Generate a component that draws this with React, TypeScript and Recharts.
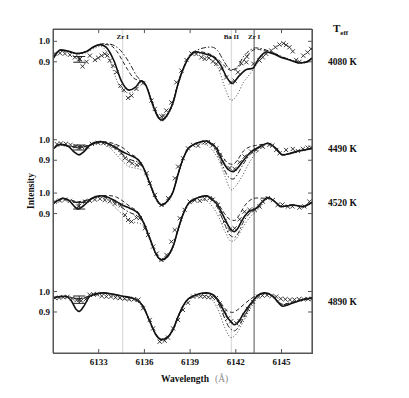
import React from "react";
import { ComposedChart, Line, Scatter, XAxis, YAxis, ReferenceLine, ErrorBar } from "recharts";

type Pt = [number, number];

const FONT = '"Liberation Serif", "Times New Roman", serif';

const wavelengthTicks = [6133, 6136, 6139, 6142, 6145];
const intensityTicks = [0.9, 1.0];
const temperatures = ["4080 K", "4490 K", "4520 K", "4890 K"];
const lineNames = ["Zr I", "Ba II", "Zr I"];
const lineCenters = [6134.57, 6141.71, 6143.2];

const X_DOMAIN: [number, number] = [6130, 6147];
const Y_DOMAIN: [number, number] = [0.7, 2.28];

// ---- 4080 K ----
const obs4080: Pt[] = [
  [6130.13, 0.94], [6130.46, 0.942], [6130.78, 0.94], [6131.11, 0.934], [6131.44, 0.922], [6131.77, 0.914],
  [6131.94, 0.878], [6132.2, 0.9], [6132.42, 0.93], [6132.75, 0.909], [6132.97, 0.919], [6133.19, 0.93],
  [6133.4, 0.939], [6133.56, 0.93], [6133.73, 0.906], [6133.95, 0.881], [6134.17, 0.849], [6134.43, 0.784],
  [6134.65, 0.763], [6134.93, 0.724], [6135.15, 0.735], [6135.48, 0.768], [6135.91, 0.795], [6136.46, 0.711],
  [6136.68, 0.67], [6137.12, 0.634], [6137.25, 0.636], [6137.44, 0.662], [6137.77, 0.702], [6138.1, 0.8],
  [6138.43, 0.857], [6138.76, 0.909], [6139.08, 0.941], [6139.41, 0.938], [6139.74, 0.922], [6139.96, 0.914],
  [6140.24, 0.919], [6140.5, 0.902], [6140.72, 0.89], [6141.05, 0.865], [6141.37, 0.824], [6141.7, 0.8],
  [6141.92, 0.808], [6142.14, 0.849], [6142.36, 0.893], [6142.69, 0.898], [6142.73, 0.925], [6143.16, 0.89],
  [6143.56, 0.906], [6143.77, 0.922], [6143.99, 0.939], [6144.32, 0.955], [6144.6, 0.971], [6144.87, 0.984],
  [6145.13, 0.99], [6145.3, 0.982], [6145.52, 0.971], [6145.74, 0.951], [6145.96, 0.909], [6146.18, 0.9],
  [6146.43, 0.93], [6146.71, 0.946], [6146.94, 0.963],
];
const fit4080: Pt[] = [
  [6130.0, 0.915], [6130.5, 0.958], [6131.0, 0.952], [6131.6, 0.94], [6132.2, 0.95], [6132.7, 0.975],
  [6133.1, 0.984], [6133.5, 0.97], [6134.0, 0.905], [6134.5, 0.805], [6135.0, 0.762], [6135.4, 0.775],
  [6135.8, 0.807], [6136.1, 0.785], [6136.5, 0.7], [6136.9, 0.63], [6137.15, 0.615], [6137.5, 0.64],
  [6137.9, 0.705], [6138.2, 0.79], [6138.6, 0.875], [6139.0, 0.93], [6139.4, 0.948], [6140.0, 0.938],
  [6140.5, 0.925], [6141.0, 0.885], [6141.4, 0.825], [6141.75, 0.794], [6142.2, 0.83], [6142.7, 0.863],
  [6143.1, 0.868], [6143.5, 0.915], [6144.0, 0.948], [6144.5, 0.938], [6144.9, 0.924], [6145.5, 0.91],
  [6146.2, 0.895], [6146.6, 0.898], [6147.0, 0.918],
];
const dash4080: Pt[] = [
  [6130.0, 0.915], [6130.5, 0.956], [6131.0, 0.95], [6131.6, 0.94], [6132.2, 0.95], [6132.7, 0.972],
  [6133.2, 0.985], [6133.7, 0.982], [6134.2, 0.95], [6134.6, 0.9], [6134.9, 0.862], [6135.3, 0.82],
  [6135.8, 0.805], [6136.1, 0.785], [6136.5, 0.705], [6136.9, 0.635], [6137.15, 0.62], [6137.5, 0.645],
  [6137.9, 0.71], [6138.2, 0.795], [6138.6, 0.878], [6139.0, 0.932], [6139.4, 0.95], [6140.0, 0.945],
  [6140.5, 0.93], [6141.0, 0.9], [6141.4, 0.87], [6141.75, 0.857], [6142.2, 0.875], [6142.6, 0.915],
  [6143.0, 0.95], [6143.4, 0.962], [6143.8, 0.955], [6144.2, 0.95], [6144.6, 0.938], [6145.0, 0.924],
  [6145.5, 0.91], [6146.2, 0.896], [6146.6, 0.899], [6147.0, 0.918],
];
const dashDot4080: Pt[] = [
  [6130.0, 0.915], [6130.5, 0.955], [6131.0, 0.95], [6131.6, 0.942], [6132.2, 0.952], [6132.7, 0.975],
  [6133.3, 0.988], [6133.8, 0.985], [6134.3, 0.965], [6134.8, 0.92], [6135.2, 0.87], [6135.5, 0.83],
  [6135.8, 0.808], [6136.1, 0.785], [6136.5, 0.705], [6136.9, 0.635], [6137.15, 0.62], [6137.5, 0.645],
  [6137.9, 0.71], [6138.2, 0.795], [6138.6, 0.878], [6139.0, 0.935], [6139.4, 0.955], [6139.9, 0.968],
  [6140.4, 0.972], [6140.8, 0.955], [6141.2, 0.905], [6141.5, 0.872], [6141.75, 0.862], [6142.1, 0.875],
  [6142.5, 0.925], [6142.9, 0.955], [6143.3, 0.968], [6143.8, 0.962], [6144.2, 0.952], [6144.6, 0.94],
  [6145.0, 0.926], [6145.5, 0.912], [6146.2, 0.897], [6146.6, 0.9], [6147.0, 0.92],
];
const dot4080: Pt[] = [
  [6130.0, 0.912], [6130.5, 0.952], [6131.0, 0.948], [6131.6, 0.938], [6132.2, 0.945], [6132.7, 0.965],
  [6133.1, 0.975], [6133.5, 0.95], [6133.9, 0.87], [6134.3, 0.79], [6134.7, 0.752], [6135.1, 0.748],
  [6135.5, 0.775], [6135.8, 0.8], [6136.1, 0.78], [6136.5, 0.695], [6136.9, 0.625], [6137.15, 0.61],
  [6137.5, 0.635], [6137.9, 0.7], [6138.2, 0.785], [6138.6, 0.87], [6139.0, 0.925], [6139.4, 0.942],
  [6139.9, 0.93], [6140.4, 0.905], [6140.9, 0.86], [6141.3, 0.77], [6141.7, 0.712], [6142.1, 0.74],
  [6142.5, 0.8], [6142.9, 0.838], [6143.3, 0.88], [6143.8, 0.935], [6144.2, 0.945], [6144.6, 0.936],
  [6145.0, 0.922], [6145.5, 0.908], [6146.2, 0.893], [6146.6, 0.896], [6147.0, 0.915],
];
const err4080 = [6131.72, 0.912, 0.014];

// ---- 4490 K ----
const obs4490: Pt[] = [
  [6130.26, 0.978], [6130.52, 0.982], [6130.85, 0.98], [6131.15, 0.975], [6131.5, 0.968], [6131.9, 0.965],
  [6132.25, 0.966], [6132.55, 0.98], [6132.95, 0.985], [6133.3, 0.983], [6133.65, 0.975], [6133.95, 0.968],
  [6134.2, 0.962], [6134.5, 0.935], [6134.72, 0.91], [6134.98, 0.895], [6135.2, 0.885], [6135.5, 0.877],
  [6135.7, 0.88], [6136.14, 0.837], [6136.35, 0.788], [6136.69, 0.731], [6137.12, 0.682], [6137.56, 0.715],
  [6138.0, 0.812], [6138.21, 0.869], [6138.53, 0.91], [6138.86, 0.958], [6139.19, 0.975], [6139.52, 0.971],
  [6139.96, 0.988], [6140.17, 0.988], [6140.5, 0.975], [6140.72, 0.958], [6140.94, 0.926], [6141.15, 0.893],
  [6141.59, 0.862], [6141.92, 0.858], [6142.25, 0.89], [6142.58, 0.918], [6143.01, 0.942], [6143.34, 0.95],
  [6143.77, 0.966], [6144.2, 0.975], [6144.4, 0.972], [6144.65, 0.95], [6144.87, 0.934], [6145.3, 0.95],
  [6145.74, 0.955], [6146.07, 0.945], [6146.4, 0.955], [6146.72, 0.961], [6146.92, 0.962],
];
const fit4490: Pt[] = [
  [6130.0, 0.955], [6130.5, 0.978], [6131.0, 0.968], [6131.4, 0.94], [6131.7, 0.926], [6132.0, 0.94],
  [6132.5, 0.978], [6133.1, 0.991], [6133.6, 0.982], [6134.2, 0.958], [6134.6, 0.94], [6135.0, 0.926],
  [6135.6, 0.901], [6135.9, 0.869], [6136.35, 0.788], [6136.75, 0.715], [6137.12, 0.682], [6137.5, 0.7],
  [6137.9, 0.75], [6138.2, 0.83], [6138.55, 0.91], [6138.85, 0.955], [6139.2, 0.975], [6139.6, 0.988],
  [6140.07, 0.994], [6140.4, 0.98], [6140.72, 0.958], [6141.15, 0.893], [6141.5, 0.855], [6141.81, 0.844],
  [6142.1, 0.86], [6142.36, 0.885], [6142.9, 0.934], [6143.56, 0.966], [6144.1, 0.983], [6144.6, 0.96],
  [6145.08, 0.926], [6145.5, 0.932], [6145.96, 0.942], [6146.5, 0.95], [6147.0, 0.958],
];
const dash4490: Pt[] = [
  [6130.0, 0.955], [6130.5, 0.975], [6131.0, 0.97], [6131.7, 0.965], [6132.5, 0.975], [6133.1, 0.99],
  [6133.6, 0.988], [6134.2, 0.975], [6134.6, 0.96], [6135.0, 0.935], [6135.6, 0.905], [6135.9, 0.872],
  [6136.35, 0.79], [6136.75, 0.718], [6137.12, 0.685], [6137.5, 0.703], [6137.9, 0.753], [6138.2, 0.833],
  [6138.55, 0.912], [6138.85, 0.956], [6139.2, 0.976], [6139.6, 0.989], [6140.07, 0.995], [6140.4, 0.985],
  [6140.72, 0.965], [6141.15, 0.915], [6141.5, 0.885], [6141.81, 0.88], [6142.1, 0.9], [6142.5, 0.945],
  [6142.9, 0.965], [6143.3, 0.972], [6143.8, 0.978], [6144.1, 0.983], [6144.6, 0.96], [6145.08, 0.928],
  [6145.5, 0.933], [6145.96, 0.942], [6146.5, 0.95], [6147.0, 0.958],
];
const dashDot4490: Pt[] = [
  [6130.0, 0.955], [6130.5, 0.976], [6131.0, 0.968], [6131.7, 0.962], [6132.5, 0.975], [6133.1, 0.99],
  [6133.6, 0.98], [6134.2, 0.95], [6134.6, 0.925], [6135.0, 0.905], [6135.6, 0.89], [6135.9, 0.866],
  [6136.35, 0.786], [6136.75, 0.713], [6137.12, 0.68], [6137.5, 0.698], [6137.9, 0.748], [6138.2, 0.828],
  [6138.55, 0.908], [6138.85, 0.953], [6139.2, 0.974], [6139.6, 0.987], [6140.07, 0.992], [6140.4, 0.975],
  [6140.72, 0.945], [6141.15, 0.87], [6141.5, 0.82], [6141.81, 0.808], [6142.1, 0.83], [6142.4, 0.87],
  [6142.9, 0.925], [6143.56, 0.962], [6144.1, 0.982], [6144.6, 0.96], [6145.08, 0.926], [6145.5, 0.932],
  [6145.96, 0.942], [6146.5, 0.95], [6147.0, 0.958],
];
const dot4490: Pt[] = [
  [6130.0, 0.952], [6130.5, 0.972], [6131.0, 0.966], [6131.7, 0.96], [6132.5, 0.972], [6133.1, 0.985],
  [6133.6, 0.97], [6134.0, 0.94], [6134.5, 0.9], [6135.0, 0.868], [6135.5, 0.86], [6135.9, 0.85],
  [6136.35, 0.78], [6136.75, 0.708], [6137.12, 0.676], [6137.5, 0.694], [6137.9, 0.744], [6138.2, 0.824],
  [6138.55, 0.905], [6138.85, 0.95], [6139.2, 0.97], [6139.6, 0.98], [6140.07, 0.975], [6140.5, 0.945],
  [6140.9, 0.9], [6141.3, 0.82], [6141.7, 0.755], [6142.0, 0.775], [6142.4, 0.82], [6142.9, 0.89],
  [6143.5, 0.95], [6144.1, 0.978], [6144.6, 0.958], [6145.08, 0.924], [6145.5, 0.93], [6145.96, 0.94],
  [6146.5, 0.948], [6147.0, 0.955],
];
const err4490 = [6131.72, 0.962, 0.012];

// ---- 4520 K ----
const obs4520: Pt[] = [
  [6130.13, 0.958], [6130.46, 0.963], [6130.79, 0.968], [6131.11, 0.962], [6131.66, 0.934], [6132.1, 0.958],
  [6132.42, 0.962], [6132.75, 0.968], [6133.08, 0.972], [6133.4, 0.966], [6133.73, 0.96], [6134.06, 0.948],
  [6134.45, 0.94], [6134.72, 0.893], [6134.93, 0.869], [6135.15, 0.861], [6135.48, 0.88], [6135.7, 0.878],
  [6136.03, 0.828], [6136.24, 0.796], [6136.57, 0.739], [6136.81, 0.705], [6137.12, 0.674], [6137.45, 0.698],
  [6137.77, 0.763], [6137.99, 0.82], [6138.32, 0.877], [6138.64, 0.918], [6138.97, 0.958], [6139.3, 0.965],
  [6139.63, 0.962], [6139.95, 0.972], [6140.28, 0.975], [6140.48, 0.968], [6140.82, 0.942], [6141.05, 0.901],
  [6141.26, 0.861], [6141.59, 0.82], [6141.92, 0.828], [6142.25, 0.872], [6142.57, 0.909], [6142.9, 0.918],
  [6143.23, 0.918], [6143.56, 0.934], [6143.77, 0.958], [6144.1, 0.975], [6144.43, 0.966], [6144.75, 0.942],
  [6145.06, 0.944], [6145.41, 0.934], [6145.72, 0.935], [6146.18, 0.929], [6146.5, 0.935], [6146.83, 0.958],
];
const fit4520: Pt[] = [
  [6130.0, 0.947], [6130.67, 0.975], [6131.1, 0.96], [6131.4, 0.935], [6131.66, 0.922], [6132.0, 0.938],
  [6132.5, 0.972], [6133.08, 0.987], [6133.6, 0.98], [6134.17, 0.958], [6134.6, 0.94], [6135.04, 0.926],
  [6135.59, 0.901], [6135.91, 0.861], [6136.35, 0.78], [6136.75, 0.705], [6137.12, 0.674], [6137.5, 0.69],
  [6137.88, 0.74], [6138.2, 0.82], [6138.53, 0.895], [6138.85, 0.945], [6139.19, 0.966], [6139.6, 0.98],
  [6140.07, 0.986], [6140.4, 0.972], [6140.72, 0.95], [6141.26, 0.877], [6141.6, 0.83], [6141.92, 0.812],
  [6142.15, 0.83], [6142.36, 0.861], [6142.79, 0.906], [6143.34, 0.926], [6143.7, 0.955], [6144.1, 0.978],
  [6144.5, 0.962], [6144.98, 0.934], [6145.4, 0.938], [6145.74, 0.942], [6146.39, 0.934], [6147.0, 0.955],
];
const dash4520: Pt[] = [
  [6130.0, 0.947], [6130.67, 0.972], [6131.2, 0.965], [6131.66, 0.958], [6132.3, 0.968], [6133.08, 0.985],
  [6133.6, 0.988], [6134.17, 0.98], [6134.6, 0.96], [6135.04, 0.935], [6135.59, 0.905], [6135.91, 0.864],
  [6136.35, 0.782], [6136.75, 0.708], [6137.12, 0.677], [6137.5, 0.693], [6137.88, 0.743], [6138.2, 0.823],
  [6138.53, 0.897], [6138.85, 0.946], [6139.19, 0.967], [6139.6, 0.981], [6140.07, 0.987], [6140.4, 0.978],
  [6140.72, 0.96], [6141.26, 0.9], [6141.6, 0.872], [6141.92, 0.866], [6142.2, 0.89], [6142.6, 0.94],
  [6143.0, 0.968], [6143.4, 0.976], [6143.8, 0.975], [6144.1, 0.978], [6144.5, 0.962], [6144.98, 0.934],
  [6145.4, 0.938], [6145.74, 0.942], [6146.39, 0.934], [6147.0, 0.955],
];
const dashDot4520: Pt[] = [
  [6130.0, 0.947], [6130.67, 0.973], [6131.2, 0.962], [6131.66, 0.955], [6132.3, 0.966], [6133.08, 0.984],
  [6133.6, 0.975], [6134.17, 0.95], [6134.6, 0.925], [6135.04, 0.905], [6135.59, 0.885], [6135.91, 0.858],
  [6136.35, 0.778], [6136.75, 0.703], [6137.12, 0.672], [6137.5, 0.688], [6137.88, 0.738], [6138.2, 0.818],
  [6138.53, 0.893], [6138.85, 0.943], [6139.19, 0.964], [6139.6, 0.978], [6140.07, 0.984], [6140.4, 0.968],
  [6140.72, 0.94], [6141.26, 0.85], [6141.6, 0.795], [6141.92, 0.785], [6142.2, 0.81], [6142.5, 0.86],
  [6142.9, 0.9], [6143.34, 0.922], [6143.7, 0.952], [6144.1, 0.977], [6144.5, 0.962], [6144.98, 0.934],
  [6145.4, 0.938], [6145.74, 0.942], [6146.39, 0.934], [6147.0, 0.955],
];
const dot4520: Pt[] = [
  [6130.0, 0.945], [6130.67, 0.97], [6131.2, 0.96], [6131.66, 0.952], [6132.3, 0.962], [6133.08, 0.98],
  [6133.6, 0.965], [6134.0, 0.935], [6134.5, 0.9], [6135.0, 0.865], [6135.5, 0.855], [6135.91, 0.845],
  [6136.35, 0.772], [6136.75, 0.7], [6137.12, 0.668], [6137.5, 0.684], [6137.88, 0.734], [6138.2, 0.814],
  [6138.53, 0.889], [6138.85, 0.938], [6139.19, 0.958], [6139.6, 0.968], [6140.07, 0.962], [6140.5, 0.93],
  [6140.9, 0.88], [6141.3, 0.81], [6141.7, 0.765], [6142.0, 0.775], [6142.4, 0.825], [6142.9, 0.88],
  [6143.4, 0.915], [6143.8, 0.95], [6144.1, 0.974], [6144.5, 0.96], [6144.98, 0.932], [6145.4, 0.936],
  [6145.74, 0.94], [6146.39, 0.932], [6147.0, 0.953],
];
const err4520 = [6131.72, 0.938, 0.016];

// ---- 4890 K ----
const obs4890: Pt[] = [
  [6130.13, 0.968], [6130.4, 0.97], [6130.68, 0.972], [6130.95, 0.974], [6131.25, 0.966], [6131.55, 0.958],
  [6131.85, 0.955], [6132.15, 0.962], [6132.4, 0.984], [6132.65, 0.986], [6132.9, 0.986], [6133.2, 0.978],
  [6133.5, 0.975], [6133.8, 0.975], [6134.1, 0.97], [6134.4, 0.968], [6134.7, 0.965], [6135.0, 0.962],
  [6135.3, 0.962], [6135.6, 0.96], [6135.91, 0.918], [6136.35, 0.861], [6136.57, 0.82], [6137.0, 0.755],
  [6137.33, 0.76], [6137.55, 0.775], [6137.88, 0.82], [6138.21, 0.861], [6138.53, 0.91], [6138.86, 0.945],
  [6139.2, 0.975], [6139.45, 0.98], [6139.7, 0.976], [6139.95, 0.975], [6140.2, 0.972], [6140.45, 0.972],
  [6140.7, 0.968], [6140.94, 0.942], [6141.26, 0.9], [6141.48, 0.869], [6141.7, 0.855], [6142.03, 0.845],
  [6142.25, 0.855], [6142.57, 0.885], [6142.79, 0.915], [6143.12, 0.95], [6143.45, 0.975], [6143.75, 0.98],
  [6144.05, 0.982], [6144.35, 0.978], [6144.65, 0.975], [6144.95, 0.965], [6145.25, 0.962], [6145.55, 0.96],
  [6145.85, 0.96], [6146.15, 0.962], [6146.45, 0.962], [6146.75, 0.963], [6147.0, 0.965],
];
const fit4890: Pt[] = [
  [6130.0, 0.97], [6130.79, 0.977], [6131.2, 0.955], [6131.5, 0.915], [6131.72, 0.903], [6132.0, 0.925],
  [6132.42, 0.977], [6132.9, 0.99], [6133.29, 0.993], [6134.0, 0.986], [6134.6, 0.977], [6135.1, 0.97],
  [6135.48, 0.96], [6135.91, 0.928], [6136.35, 0.855], [6136.75, 0.79], [6137.12, 0.765], [6137.5, 0.776],
  [6137.88, 0.815], [6138.2, 0.875], [6138.53, 0.928], [6138.85, 0.962], [6139.19, 0.977], [6139.6, 0.989],
  [6140.07, 0.993], [6140.5, 0.984], [6140.8, 0.96], [6141.05, 0.928], [6141.48, 0.871], [6141.92, 0.838],
  [6142.2, 0.855], [6142.46, 0.887], [6143.01, 0.944], [6143.4, 0.978], [6143.88, 0.993], [6144.43, 0.977],
  [6144.8, 0.945], [6145.08, 0.928], [6145.4, 0.934], [6145.74, 0.944], [6146.39, 0.96], [6147.0, 0.968],
];
const dash4890: Pt[] = [
  [6130.0, 0.97], [6130.79, 0.975], [6131.7, 0.965], [6132.42, 0.978], [6133.29, 0.992], [6134.0, 0.986],
  [6134.6, 0.977], [6135.1, 0.97], [6135.48, 0.96], [6135.91, 0.93], [6136.35, 0.857], [6136.75, 0.792],
  [6137.12, 0.767], [6137.5, 0.778], [6137.88, 0.817], [6138.2, 0.877], [6138.53, 0.93], [6138.85, 0.963],
  [6139.19, 0.978], [6139.6, 0.989], [6140.07, 0.992], [6140.5, 0.984], [6140.8, 0.965], [6141.1, 0.935],
  [6141.45, 0.905], [6141.8, 0.898], [6142.1, 0.91], [6142.5, 0.935], [6143.0, 0.965], [6143.4, 0.982],
  [6143.88, 0.992], [6144.43, 0.977], [6144.8, 0.95], [6145.08, 0.938], [6145.4, 0.942], [6145.74, 0.948],
  [6146.39, 0.96], [6147.0, 0.968],
];
const dashDot4890: Pt[] = [
  [6130.0, 0.97], [6130.79, 0.975], [6131.7, 0.964], [6132.42, 0.977], [6133.29, 0.992], [6134.0, 0.985],
  [6134.6, 0.975], [6135.1, 0.968], [6135.48, 0.958], [6135.91, 0.926], [6136.35, 0.853], [6136.75, 0.788],
  [6137.12, 0.763], [6137.5, 0.774], [6137.88, 0.813], [6138.2, 0.873], [6138.53, 0.926], [6138.85, 0.96],
  [6139.19, 0.976], [6139.6, 0.988], [6140.07, 0.991], [6140.5, 0.98], [6140.8, 0.95], [6141.1, 0.9],
  [6141.48, 0.835], [6141.9, 0.808], [6142.2, 0.83], [6142.5, 0.87], [6143.01, 0.935], [6143.4, 0.975],
  [6143.88, 0.992], [6144.43, 0.977], [6144.8, 0.948], [6145.08, 0.935], [6145.4, 0.94], [6145.74, 0.946],
  [6146.39, 0.96], [6147.0, 0.968],
];
const dot4890: Pt[] = [
  [6130.0, 0.968], [6130.79, 0.973], [6131.7, 0.962], [6132.42, 0.975], [6133.29, 0.988], [6134.0, 0.975],
  [6134.6, 0.962], [6135.1, 0.958], [6135.48, 0.952], [6135.91, 0.922], [6136.35, 0.85], [6136.75, 0.785],
  [6137.12, 0.76], [6137.5, 0.771], [6137.88, 0.81], [6138.2, 0.87], [6138.53, 0.923], [6138.85, 0.957],
  [6139.19, 0.972], [6139.6, 0.982], [6140.07, 0.978], [6140.5, 0.955], [6140.9, 0.9], [6141.3, 0.82],
  [6141.7, 0.775], [6142.0, 0.79], [6142.4, 0.84], [6142.9, 0.91], [6143.4, 0.965], [6143.88, 0.988],
  [6144.43, 0.975], [6144.8, 0.948], [6145.08, 0.935], [6145.4, 0.94], [6145.74, 0.945], [6146.39, 0.958],
  [6147.0, 0.966],
];
const err4890 = [6131.72, 0.96, 0.018];

const panels = [
  { obs: obs4080, fit: fit4080, dash: dash4080, dashDot: dashDot4080, dot: dot4080, err: err4080 },
  { obs: obs4490, fit: fit4490, dash: dash4490, dashDot: dashDot4490, dot: dot4490, err: err4490 },
  { obs: obs4520, fit: fit4520, dash: dash4520, dashDot: dashDot4520, dot: dot4520, err: err4520 },
  { obs: obs4890, fit: fit4890, dash: dash4890, dashDot: dashDot4890, dot: dot4890, err: err4890 },
];

// vertical shift of each spectrum in the stack
const panelShift = [1.22, 0.74, 0.48, 0];
const yTicks = panelShift.flatMap((s) => intensityTicks.map((t) => +(s + t).toFixed(3)));
const yLabel = (v: number) => {
  const s = panelShift.find((o) => intensityTicks.some((t) => Math.abs(v - o - t) < 0.001));
  return (v - (s ?? 0)).toFixed(1);
};

const rows = (pts: Pt[], shift: number) => pts.map(([w, i]) => ({ w, v: i + shift }));

const Cross = (props: any) => {
  const { cx, cy } = props;
  if (cx == null || cy == null) return null;
  const r = 2.1;
  return (
    <path
      d={`M${cx - r},${cy - r}L${cx + r},${cy + r}M${cx - r},${cy + r}L${cx + r},${cy - r}`}
      stroke="#222"
      strokeWidth={0.9}
      fill="none"
    />
  );
};

const AXIS = "#555";
const tickFont = { fontSize: 9, fontWeight: 700, fill: "#111", fontFamily: FONT };
const labelY = [54, 141, 195, 294];
// inward tick length on the top / right frame, in data units (about 4 px)
const TOP_TICK = 0.02;
const RIGHT_TICK = 0.26;

// plot box inside the 400 x 390 chart
const PLOT = { left: 45, top: 21, width: 259, height: 324 };

const App: React.FC = () => {
  const series = panels.flatMap((p, k) => {
    const s = panelShift[k];
    return [
      <Line key={`dot${k}`} data={rows(p.dot, s)} dataKey="v" type="monotone" stroke="#333" strokeWidth={0.9} strokeDasharray="1 2" dot={false} isAnimationActive={false} />,
      <Line key={`dd${k}`} data={rows(p.dashDot, s)} dataKey="v" type="monotone" stroke="#222" strokeWidth={1} strokeDasharray="5 2 1.5 2" dot={false} isAnimationActive={false} />,
      <Line key={`da${k}`} data={rows(p.dash, s)} dataKey="v" type="monotone" stroke="#222" strokeWidth={1} strokeDasharray="4 2.5" dot={false} isAnimationActive={false} />,
      <Line key={`fit${k}`} data={rows(p.fit, s)} dataKey="v" type="monotone" stroke="#111" strokeWidth={1.6} dot={false} isAnimationActive={false} />,
      <Scatter key={`obs${k}`} data={rows(p.obs, s)} dataKey="v" shape={Cross} isAnimationActive={false} />,
      <Scatter
        key={`err${k}`}
        data={[{ w: p.err[0], v: p.err[1] + s, e: p.err[2] }]}
        dataKey="v"
        shape={Cross}
        isAnimationActive={false}
      >
        <ErrorBar dataKey="e" direction="y" width={6} stroke="#222" strokeWidth={1} isAnimationActive={false} />
      </Scatter>,
    ];
  });

  const [, x1] = X_DOMAIN;
  const [, y1] = Y_DOMAIN;

  // top and right edges of the frame, with inward ticks
  const frame = [
    <ReferenceLine key="ftop" y={y1} stroke={AXIS} strokeWidth={1.2} ifOverflow="visible" />,
    <ReferenceLine key="fright" x={x1} stroke={AXIS} strokeWidth={1.2} ifOverflow="visible" />,
    ...wavelengthTicks.map((t) => (
      <ReferenceLine key={`tt${t}`} segment={[{ x: t, y: y1 }, { x: t, y: y1 - TOP_TICK }]} stroke={AXIS} ifOverflow="visible" />
    )),
    ...yTicks.map((t) => (
      <ReferenceLine key={`rt${t}`} segment={[{ x: x1, y: t }, { x: x1 - RIGHT_TICK, y: t }]} stroke={AXIS} ifOverflow="visible" />
    )),
  ];

  return (
    <div style={{ position: "relative", width: 400, height: 390, fontFamily: FONT, color: "#111" }}>
      <ComposedChart width={400} height={390} margin={{ top: PLOT.top, right: 400 - PLOT.left - PLOT.width, bottom: 25, left: 0 }}>
        <XAxis
          dataKey="w"
          type="number"
          domain={X_DOMAIN}
          allowDataOverflow
          ticks={wavelengthTicks}
          interval={0}
          height={20}
          tickSize={-4}
          tickMargin={10}
          stroke={AXIS}
          tick={tickFont}
        />
        <YAxis
          dataKey="v"
          type="number"
          domain={Y_DOMAIN}
          allowDataOverflow
          ticks={yTicks}
          interval={0}
          tickFormatter={yLabel}
          width={PLOT.left}
          tickSize={-4}
          tickMargin={7}
          stroke={AXIS}
          tick={tickFont}
        />
        {lineCenters.map((x, i) => (
          <ReferenceLine
            key={`ref${i}`}
            x={x}
            stroke={i === 2 ? "#555" : "#dcdcdc"}
            strokeWidth={i === 2 ? 1 : 1.3}
            label={{
              value: lineNames[i],
              position: "insideTop",
              offset: 5,
              fontSize: 7,
              fontWeight: 700,
              fill: "#111",
              fontFamily: FONT,
            }}
          />
        ))}
        {frame}
        {series}
      </ComposedChart>

      {/* plot frame */}
      <div
        style={{
          position: "absolute",
          left: PLOT.left,
          top: PLOT.top,
          width: PLOT.width + 1,
          height: PLOT.height + 1,
          border: `1px solid ${AXIS}`,
          boxSizing: "border-box",
          pointerEvents: "none",
        }}
      />

      <div style={{ position: "absolute", left: 325, top: 14, fontSize: 11, fontWeight: 700 }}>
        T<sub style={{ fontSize: 7 }}>eff</sub>
      </div>
      {temperatures.map((t, i) => (
        <div key={t} style={{ position: "absolute", left: 320, top: labelY[i] - 6, fontSize: 9.5, fontWeight: 700, lineHeight: "12px" }}>
          {t}
        </div>
      ))}
      <div
        style={{
          position: "absolute",
          left: 22.7 - 30,
          top: 183 - 6,
          width: 60,
          textAlign: "center",
          transform: "rotate(-90deg)",
          fontSize: 9.5,
          fontWeight: 700,
          lineHeight: "12px",
        }}
      >
        Intensity
      </div>
      <div style={{ position: "absolute", left: 153, top: 365, fontSize: 9.5, lineHeight: "12px", whiteSpace: "nowrap" }}>
        <span style={{ fontWeight: 700 }}>Wavelength</span>
        <span style={{ color: "#888", marginLeft: 6 }}>(Å)</span>
      </div>
    </div>
  );
};

export default App;
